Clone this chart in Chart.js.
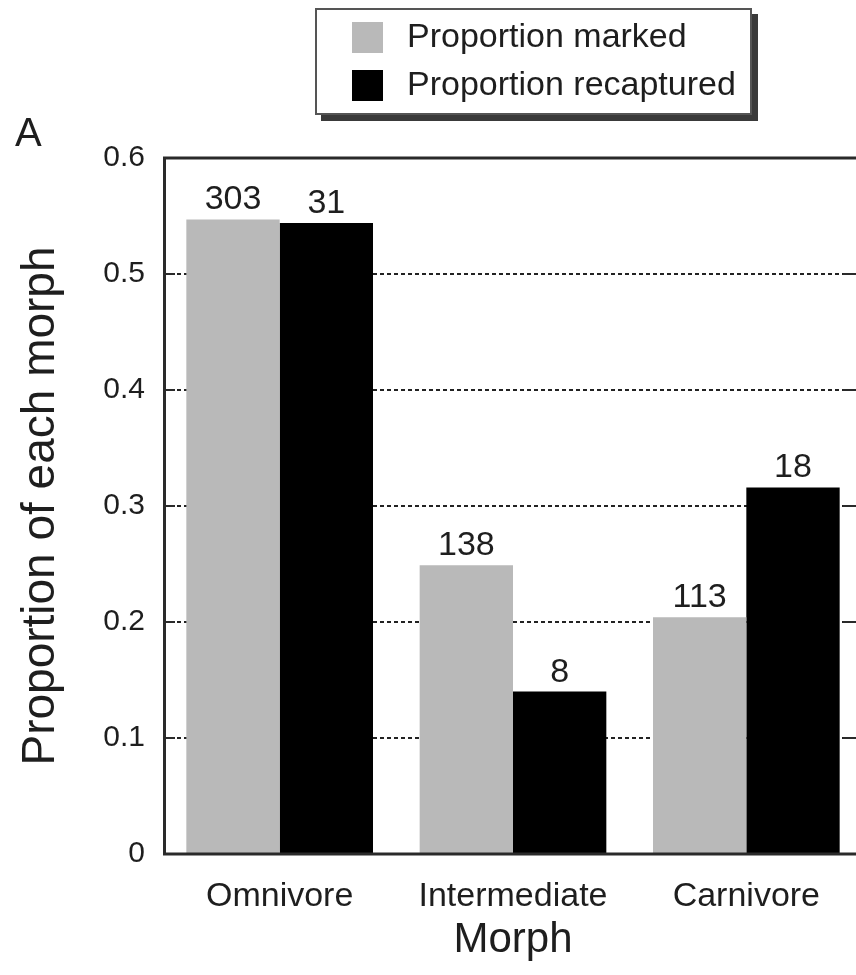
<!DOCTYPE html>
<html>
<head>
<meta charset="utf-8">
<script src="https://cdn.jsdelivr.net/npm/chart.js@4"></script>
<style>
    html, body { margin: 0; padding: 0; background: #fff; overflow: hidden; }
    #chartDiv { position: relative; width: 866px; height: 975px; }
</style>
</head>
<body>
<div id="chartDiv"><canvas id="chart1"></canvas></div>
<script>
// data
const morphs = ['Omnivore', 'Intermediate', 'Carnivore'];
const propMarked = [0.547, 0.249, 0.204];
const propRecaptured = [0.544, 0.140, 0.316];
const countMarked = [303, 138, 113];
const countRecaptured = [31, 8, 18];
const yTickLabels = ['0', '0.1', '0.2', '0.3', '0.4', '0.5', '0.6'];

const fontFamily = '"Liberation Sans", Arial, Helvetica, sans-serif';
const textColor = '#1e1e1e';
const frameColor = '#2a2a2a';

// counts written above each bar
const barCounts = {
    id: 'barCounts',
    afterDatasetsDraw(chart) {
        const ctx = chart.ctx;
        const counts = [countMarked, countRecaptured];
        ctx.save();
        ctx.font = '34px ' + fontFamily;
        ctx.fillStyle = textColor;
        ctx.textAlign = 'center';
        ctx.textBaseline = 'alphabetic';
        chart.data.datasets.forEach(function (ds, i) {
            chart.getDatasetMeta(i).data.forEach(function (bar, j) {
                ctx.fillText(String(counts[i][j]), bar.x, bar.y - 10);
            });
        });
        ctx.restore();
    }
};

// box round the plot, with small solid ticks on the inside
const plotFrame = {
    id: 'plotFrame',
    afterDatasetsDraw(chart) {
        const {ctx, chartArea: a} = chart;
        const y = chart.scales.y;
        ctx.save();
        ctx.strokeStyle = frameColor;
        ctx.lineWidth = 3;
        ctx.strokeRect(a.left + 1.5, a.top, a.right - a.left - 1.5, a.bottom - a.top);
        ctx.lineWidth = 2;
        y.ticks.forEach(function (t) {
            const py = y.getPixelForValue(t.value);
            ctx.beginPath();
            ctx.moveTo(a.left, py);
            ctx.lineTo(a.left + 12, py);
            ctx.moveTo(a.right - 20, py);
            ctx.lineTo(a.right, py);
            ctx.stroke();
        });
        ctx.restore();
    }
};

// legend box with a drop shadow, and the panel letter
const boxLegend = {
    id: 'boxLegend',
    afterDraw(chart) {
        const ctx = chart.ctx;
        ctx.save();
        ctx.fillStyle = '#3a3a3a';
        ctx.fillRect(321, 14, 437, 107);
        ctx.fillStyle = '#fff';
        ctx.fillRect(315, 8, 437, 107);
        ctx.strokeStyle = '#555';
        ctx.lineWidth = 2;
        ctx.strokeRect(316, 9, 435, 105);

        ctx.font = '34px ' + fontFamily;
        ctx.textBaseline = 'middle';
        chart.data.datasets.forEach(function (ds, i) {
            const top = 22 + i * 48;
            ctx.fillStyle = ds.backgroundColor;
            ctx.fillRect(352, top, 31, 31);
            ctx.fillStyle = textColor;
            ctx.fillText(ds.label, 407, top + 16);
        });

        ctx.font = '40px ' + fontFamily;
        ctx.textBaseline = 'alphabetic';
        ctx.fillText('A', 15, 146);
        ctx.restore();
    }
};

const ctx = document.getElementById('chart1');
const myChart = new Chart(ctx, {
    type: 'bar',
    data: {
        labels: morphs,
        datasets: [{
            label: 'Proportion marked',
            data: propMarked,
            backgroundColor: '#b9b9b9',
            borderWidth: 0
        }, {
            label: 'Proportion recaptured',
            data: propRecaptured,
            backgroundColor: '#000000',
            borderWidth: 0
        }]
    },
    options: {
        responsive: true,
        maintainAspectRatio: false,
        animation: false,
        devicePixelRatio: 1,
        layout: {
            padding: { top: 158, right: 3, bottom: 0, left: 0 }
        },
        datasets: {
            bar: { categoryPercentage: 0.8, barPercentage: 1.0 }
        },
        plugins: {
            legend: { display: false },
            tooltip: { enabled: false }
        },
        scales: {
            x: {
                grid: { display: false },
                border: { display: false },
                ticks: {
                    color: textColor,
                    padding: 14,
                    font: { family: fontFamily, size: 34 }
                },
                title: {
                    display: true,
                    text: 'Morph',
                    color: textColor,
                    padding: { top: 0, bottom: 9 },
                    font: { family: fontFamily, size: 42 }
                },
                afterFit: function (scale) { scale.height = 121; }
            },
            y: {
                min: 0,
                max: 0.6,
                ticks: {
                    stepSize: 0.1,
                    color: textColor,
                    padding: 18,
                    font: { family: fontFamily, size: 30 },
                    callback: function (value, index) { return yTickLabels[index]; }
                },
                grid: {
                    color: '#222',
                    lineWidth: 2,
                    drawTicks: false
                },
                border: { display: false, dash: [4, 3] },
                title: {
                    display: true,
                    text: 'Proportion of each morph',
                    color: textColor,
                    padding: { top: 14, bottom: 0 },
                    font: { family: fontFamily, size: 46 }
                },
                afterFit: function (scale) { scale.width = 163; }
            }
        }
    },
    plugins: [barCounts, plotFrame, boxLegend]
});
</script>
</body>
</html>
